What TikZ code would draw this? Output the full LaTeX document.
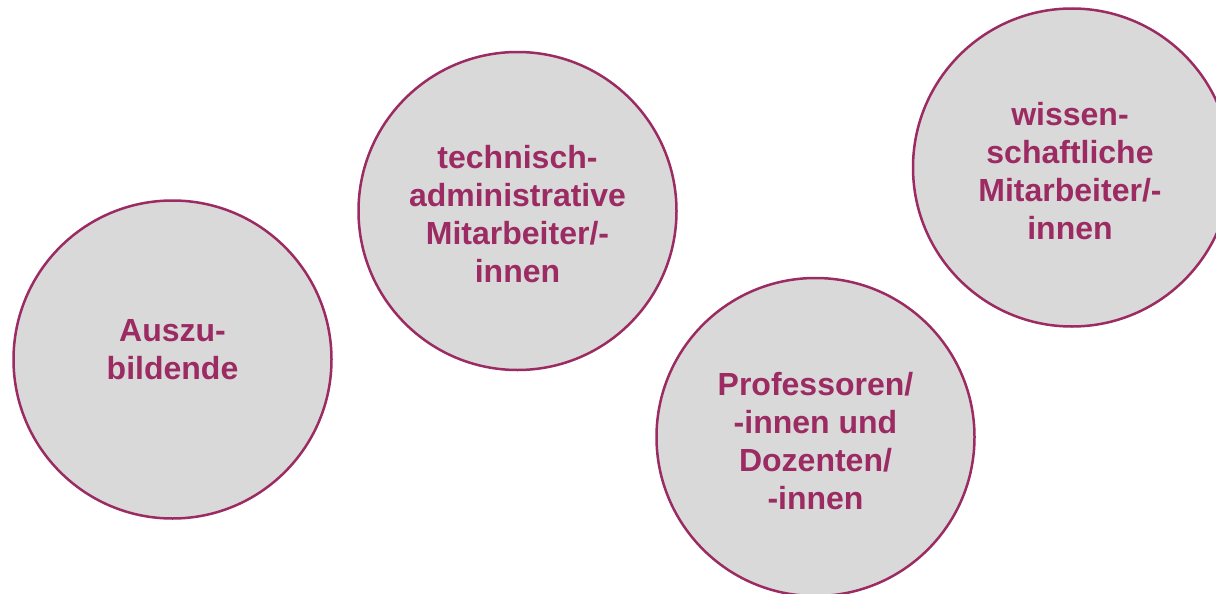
\documentclass[tikz,border=0pt]{standalone}
\usepackage{fontspec}
\setmainfont{Liberation Sans}
\definecolor{rim}{HTML}{9B2B62}
\definecolor{disc}{HTML}{D9D9D9}
\begin{document}
\begin{tikzpicture}[x=0.5pt,y=-0.5pt,
  group/.style={circle,draw=rim,fill=disc,line width=1.25pt,minimum size=159pt,inner sep=0pt},
  label/.style={text=rim,font=\bfseries\fontsize{16pt}{19pt}\selectfont,align=center}]
\useasboundingbox (0,0) rectangle (1216,594);
\begin{scope}
\clip (0,0) rectangle (1216,594);
\node[group] (azubi) at (172.5,359.5) {};
\node[group] (tech) at (517.5,211) {};
\node[group] (prof) at (815.5,437) {};
\node[group] (wiss) at (1072,167.5) {};
\end{scope}
\node[label] (tazubi) at ([yshift=5pt]azubi) {Auszu-\\bildende};
\node[label] (ttech) at ([yshift=-1.5pt]tech) {technisch-\\administrative\\Mitarbeiter/-\\innen};
\node[label] (tprof) at ([yshift=-2pt]prof) {Professoren/\\-innen und\\Dozenten/\\-innen};
\node[label] (twiss) at ([xshift=-1pt,yshift=-2pt]wiss) {wissen-\\schaftliche\\Mitarbeiter/-\\innen};
\end{tikzpicture}
\end{document}
